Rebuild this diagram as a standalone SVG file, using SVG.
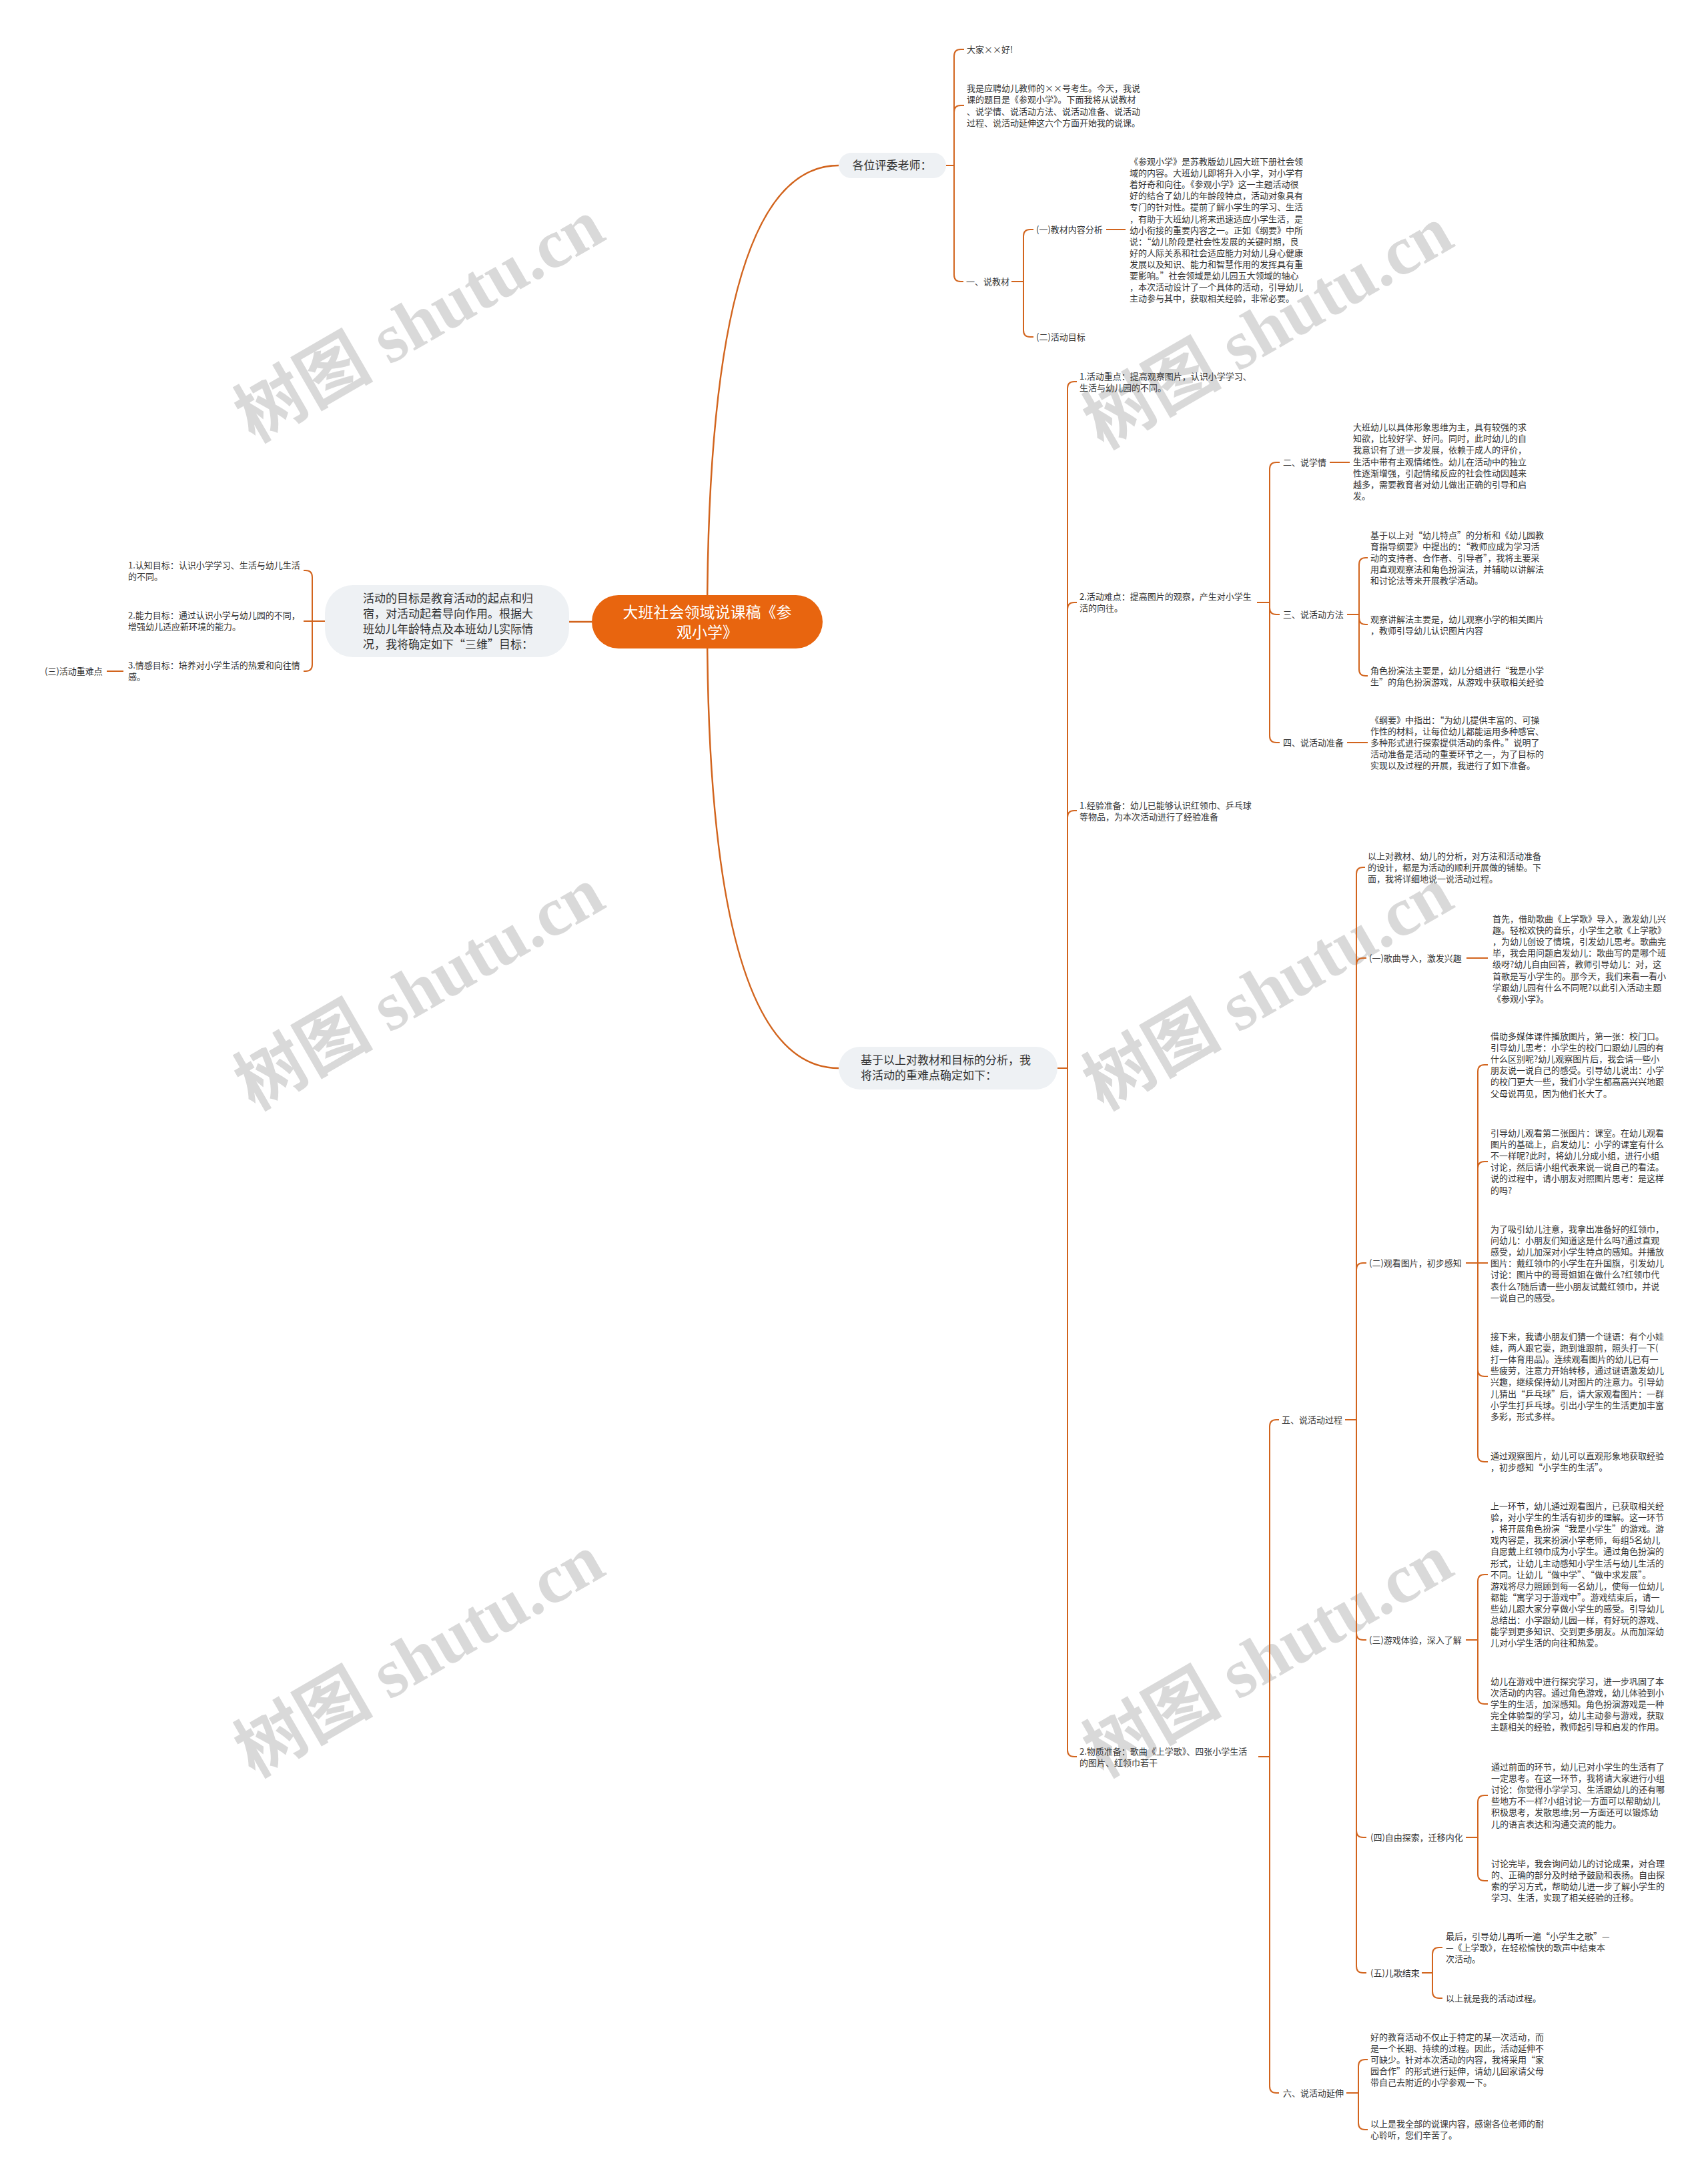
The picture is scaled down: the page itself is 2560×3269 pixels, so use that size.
<svg xmlns="http://www.w3.org/2000/svg" width="2560" height="3269" viewBox="0 0 2560 3269">
<style>
.t{font-family:"Noto Sans CJK SC","Noto Sans",sans-serif;font-size:13px;fill:#333}
.b{font-family:"Noto Sans CJK SC","Noto Sans",sans-serif;font-size:17px;fill:#333}
.r{font-family:"Noto Sans CJK SC","Noto Sans",sans-serif;font-size:23px;fill:#fff}
.c{fill:none;stroke:#d2641d;stroke-width:2}
.m{fill:none;stroke:#d2641d;stroke-width:2.5}
.box{fill:#eef1f4}
.wm{font-family:"Liberation Serif","Noto Sans CJK SC",serif;font-size:104px;font-weight:bold;fill:#d9d9d9}
</style>
<rect width="2560" height="3269" fill="#fff"/>
<g id="watermark">
<text class="wm" text-anchor="middle" transform="translate(646,511) rotate(-30)">树图 shutu.cn</text>
<text class="wm" text-anchor="middle" transform="translate(1918,521) rotate(-30)">树图 shutu.cn</text>
<text class="wm" text-anchor="middle" transform="translate(646,1512) rotate(-30)">树图 shutu.cn</text>
<text class="wm" text-anchor="middle" transform="translate(1918,1512) rotate(-30)">树图 shutu.cn</text>
<text class="wm" text-anchor="middle" transform="translate(646,2512) rotate(-30)">树图 shutu.cn</text>
<text class="wm" text-anchor="middle" transform="translate(1918,2512) rotate(-30)">树图 shutu.cn</text>
</g>
<g id="connectors">
<path class="m" d="M1060 932 Q1060 248 1257 248"/>
<path class="m" d="M1060 932 Q1060 1601 1257 1601"/>
<path class="m" d="M887 932 H853"/>
<path class="c" d="M1418 248 H1430"/>
<path class="c" d="M1430 248 V84 Q1430 74 1440 74 H1445"/>
<path class="c" d="M1430 248 V168 Q1430 158 1440 158 H1445"/>
<path class="c" d="M1430 248 V412 Q1430 422 1440 422 H1444"/>
<path class="c" d="M1516 422 H1534"/>
<path class="c" d="M1534 422 V354 Q1534 344 1544 344 H1549"/>
<path class="c" d="M1534 422 V495 Q1534 505 1544 505 H1549"/>
<path class="c" d="M1658 344 H1687"/>
<path class="c" d="M1585 1601 H1600"/>
<path class="c" d="M1600 1601 V582 Q1600 572 1610 572 H1614"/>
<path class="c" d="M1600 1601 V913 Q1600 903 1610 903 H1614"/>
<path class="c" d="M1600 1601 V1225 Q1600 1215 1610 1215 H1614"/>
<path class="c" d="M1600 1601 V2623 Q1600 2633 1610 2633 H1614"/>
<path class="c" d="M1884 903 H1903"/>
<path class="c" d="M1903 903 V703 Q1903 693 1913 693 H1918"/>
<path class="c" d="M1903 903 V911 Q1903 921 1913 921 H1918"/>
<path class="c" d="M1903 903 V1103 Q1903 1113 1913 1113 H1918"/>
<path class="c" d="M1993 693 H2023"/>
<path class="c" d="M2019 921 H2037"/>
<path class="c" d="M2037 921 V846 Q2037 836 2047 836 H2050"/>
<path class="c" d="M2037 921 V926 Q2037 936 2047 936 H2050"/>
<path class="c" d="M2037 921 V1003 Q2037 1013 2047 1013 H2050"/>
<path class="c" d="M2019 1113 H2050"/>
<path class="c" d="M1886 2633 H1903"/>
<path class="c" d="M1903 2633 V2138 Q1903 2128 1913 2128 H1917"/>
<path class="c" d="M1903 2633 V3127 Q1903 3137 1913 3137 H1917"/>
<path class="c" d="M2016 2128 H2033"/>
<path class="c" d="M2033 2128 V1310 Q2033 1300 2043 1300 H2046"/>
<path class="c" d="M2033 2128 V1446 Q2033 1436 2043 1436 H2048"/>
<path class="c" d="M2033 2128 V1903 Q2033 1893 2043 1893 H2048"/>
<path class="c" d="M2033 2128 V2448 Q2033 2458 2043 2458 H2048"/>
<path class="c" d="M2033 2128 V2744 Q2033 2754 2043 2754 H2048"/>
<path class="c" d="M2033 2128 V2947 Q2033 2957 2043 2957 H2048"/>
<path class="c" d="M2198 1436 H2230"/>
<path class="c" d="M2197 1893 H2215"/>
<path class="c" d="M2215 1893 V1606 Q2215 1596 2225 1596 H2230"/>
<path class="c" d="M2215 1893 V1751 Q2215 1741 2225 1741 H2230"/>
<path class="c" d="M2215 1893 H2230"/>
<path class="c" d="M2215 1893 V2053 Q2215 2063 2225 2063 H2230"/>
<path class="c" d="M2215 1893 V2181 Q2215 2191 2225 2191 H2230"/>
<path class="c" d="M2197 2458 H2215"/>
<path class="c" d="M2215 2458 V2370 Q2215 2360 2225 2360 H2230"/>
<path class="c" d="M2215 2458 V2544 Q2215 2554 2225 2554 H2230"/>
<path class="c" d="M2197 2754 H2215"/>
<path class="c" d="M2215 2754 V2701 Q2215 2691 2225 2691 H2230"/>
<path class="c" d="M2215 2754 V2809 Q2215 2819 2225 2819 H2230"/>
<path class="c" d="M2131 2957 H2147"/>
<path class="c" d="M2147 2957 V2929 Q2147 2919 2157 2919 H2162"/>
<path class="c" d="M2147 2957 V2985 Q2147 2995 2157 2995 H2162"/>
<path class="c" d="M2018 3137 H2036"/>
<path class="c" d="M2036 3137 V3097 Q2036 3087 2046 3087 H2050"/>
<path class="c" d="M2036 3137 V3182 Q2036 3192 2046 3192 H2050"/>
<path class="c" d="M487 931 H468"/>
<path class="c" d="M468 931 V865 Q468 855 458 855 H455"/>
<path class="c" d="M468 931 H455"/>
<path class="c" d="M468 931 V996 Q468 1006 458 1006 H455"/>
<path class="c" d="M185 1006 H160"/>
</g>
<g id="root">
<rect x="887" y="892" width="346" height="80" rx="40" fill="#e8650f"/>
<text class="r" text-anchor="middle" x="1060" y="926">大班社会领域说课稿《参<tspan x="1060" dy="30">观小学》</tspan></text>
</g>
<g id="n-goal-intro">
<rect class="box" x="487" y="877" width="366" height="108" rx="42"/>
<text class="b" x="544" y="902.5">活动的目标是教育活动的起点和归<tspan x="544" dy="23">宿，对活动起着导向作用。根据大</tspan><tspan x="544" dy="23">班幼儿年龄特点及本班幼儿实际情</tspan><tspan x="544" dy="23">况，我将确定如下“三维”目标：</tspan></text>
</g>
<g id="n-goal1"><text class="t" x="192" y="852">1.认知目标：认识小学学习、生活与幼儿生活<tspan x="192" dy="17">的不同。</tspan></text></g>
<g id="n-goal2"><text class="t" x="192" y="927">2.能力目标：通过认识小学与幼儿园的不同，<tspan x="192" dy="17">增强幼儿适应新环境的能力。</tspan></text></g>
<g id="n-goal3"><text class="t" x="192" y="1002">3.情感目标：培养对小学生活的热爱和向往情<tspan x="192" dy="17">感。</tspan></text></g>
<g id="n-zhongnan"><text class="t" x="67" y="1011">(三)活动重难点</text></g>
<g id="n-judges">
<rect class="box" x="1257" y="229" width="161" height="38" rx="19"/>
<text class="b" text-anchor="middle" x="1337" y="254">各位评委老师：</text>
</g>
<g id="n-hello"><text class="t" x="1449" y="79">大家××好!</text></g>
<g id="n-intro"><text class="t" x="1449" y="137">我是应聘幼儿教师的××号考生。今天，我说<tspan x="1449" dy="17.3">课的题目是《参观小学》。下面我将从说教材</tspan><tspan x="1449" dy="17.3">、说学情、说活动方法、说活动准备、说活动</tspan><tspan x="1449" dy="17.3">过程、说活动延伸这六个方面开始我的说课。</tspan></text></g>
<g id="n-jiaocai"><text class="t" x="1448" y="427">一、说教材</text></g>
<g id="n-jiaocai1"><text class="t" x="1553" y="349">(一)教材内容分析</text></g>
<g id="n-jiaocai1-text"><text class="t" x="1693" y="247">《参观小学》是苏教版幼儿园大班下册社会领<tspan x="1693" dy="17.1">域的内容。大班幼儿即将升入小学，对小学有</tspan><tspan x="1693" dy="17.1">着好奇和向往。《参观小学》这一主题活动很</tspan><tspan x="1693" dy="17.1">好的结合了幼儿的年龄段特点，活动对象具有</tspan><tspan x="1693" dy="17.1">专门的针对性。提前了解小学生的学习、生活</tspan><tspan x="1693" dy="17.1">，有助于大班幼儿将来迅速适应小学生活，是</tspan><tspan x="1693" dy="17.1">幼小衔接的重要内容之一。正如《纲要》中所</tspan><tspan x="1693" dy="17.1">说：“幼儿阶段是社会性发展的关键时期，良</tspan><tspan x="1693" dy="17.1">好的人际关系和社会适应能力对幼儿身心健康</tspan><tspan x="1693" dy="17.1">发展以及知识、能力和智慧作用的发挥具有重</tspan><tspan x="1693" dy="17.1">要影响。”社会领域是幼儿园五大领域的轴心</tspan><tspan x="1693" dy="17.1">，本次活动设计了一个具体的活动，引导幼儿</tspan><tspan x="1693" dy="17.1">主动参与其中，获取相关经验，非常必要。</tspan></text></g>
<g id="n-jiaocai2"><text class="t" x="1553" y="510">(二)活动目标</text></g>
<g id="n-based">
<rect class="box" x="1257" y="1569" width="328" height="64" rx="32"/>
<text class="b" x="1290" y="1595">基于以上对教材和目标的分析，我<tspan x="1290" dy="23">将活动的重难点确定如下：</tspan></text>
</g>
<g id="n-zhongdian"><text class="t" x="1618" y="569">1.活动重点：提高观察图片，认识小学学习、<tspan x="1618" dy="17">生活与幼儿园的不同。</tspan></text></g>
<g id="n-nandian"><text class="t" x="1618" y="899">2.活动难点：提高图片的观察，产生对小学生<tspan x="1618" dy="17">活的向往。</tspan></text></g>
<g id="n-xueqing"><text class="t" x="1923" y="698">二、说学情</text></g>
<g id="n-xueqing-text"><text class="t" x="2028" y="645">大班幼儿以具体形象思维为主，具有较强的求<tspan x="2028" dy="17.2">知欲，比较好学、好问。同时，此时幼儿的自</tspan><tspan x="2028" dy="17.2">我意识有了进一步发展，依赖于成人的评价，</tspan><tspan x="2028" dy="17.2">生活中带有主观情绪性。幼儿在活动中的独立</tspan><tspan x="2028" dy="17.2">性逐渐增强，引起情绪反应的社会性动因越来</tspan><tspan x="2028" dy="17.2">越多，需要教育者对幼儿做出正确的引导和启</tspan><tspan x="2028" dy="17.2">发。</tspan></text></g>
<g id="n-fangfa"><text class="t" x="1923" y="926">三、说活动方法</text></g>
<g id="n-fangfa-1"><text class="t" x="2054" y="807">基于以上对“幼儿特点”的分析和《幼儿园教<tspan x="2054" dy="17.1">育指导纲要》中提出的：“教师应成为学习活</tspan><tspan x="2054" dy="17.1">动的支持者、合作者、引导者”，我将主要采</tspan><tspan x="2054" dy="17.1">用直观观察法和角色扮演法，并辅助以讲解法</tspan><tspan x="2054" dy="17.1">和讨论法等来开展教学活动。</tspan></text></g>
<g id="n-fangfa-2"><text class="t" x="2054" y="933">观察讲解法主要是，幼儿观察小学的相关图片<tspan x="2054" dy="17.1">，教师引导幼儿认识图片内容</tspan></text></g>
<g id="n-fangfa-3"><text class="t" x="2054" y="1010">角色扮演法主要是，幼儿分组进行“我是小学<tspan x="2054" dy="17.1">生”的角色扮演游戏，从游戏中获取相关经验</tspan></text></g>
<g id="n-zhunbei"><text class="t" x="1923" y="1118">四、说活动准备</text></g>
<g id="n-zhunbei-text"><text class="t" x="2054" y="1084">《纲要》中指出：“为幼儿提供丰富的、可操<tspan x="2054" dy="17.1">作性的材料，让每位幼儿都能运用多种感官、</tspan><tspan x="2054" dy="17.1">多种形式进行探索提供活动的条件。”说明了</tspan><tspan x="2054" dy="17.1">活动准备是活动的重要环节之一，为了目标的</tspan><tspan x="2054" dy="17.1">实现以及过程的开展，我进行了如下准备。</tspan></text></g>
<g id="n-jingyan"><text class="t" x="1618" y="1212">1.经验准备：幼儿已能够认识红领巾、乒乓球<tspan x="1618" dy="17">等物品，为本次活动进行了经验准备</tspan></text></g>
<g id="n-wuzhi"><text class="t" x="1618" y="2630">2.物质准备：歌曲《上学歌》、四张小学生活<tspan x="1618" dy="17">的图片、红领巾若干</tspan></text></g>
<g id="n-guocheng"><text class="t" x="1921" y="2133">五、说活动过程</text></g>
<g id="n-guocheng-0"><text class="t" x="2050" y="1288">以上对教材、幼儿的分析，对方法和活动准备<tspan x="2050" dy="17.1">的设计，都是为活动的顺利开展做的铺垫。下</tspan><tspan x="2050" dy="17.1">面，我将详细地说一说活动过程。</tspan></text></g>
<g id="n-step1"><text class="t" x="2052" y="1441">(一)歌曲导入，激发兴趣</text></g>
<g id="n-step1-text"><text class="t" x="2237" y="1382">首先，借助歌曲《上学歌》导入，激发幼儿兴<tspan x="2237" dy="17.1">趣。轻松欢快的音乐，小学生之歌《上学歌》</tspan><tspan x="2237" dy="17.1">，为幼儿创设了情境，引发幼儿思考。歌曲完</tspan><tspan x="2237" dy="17.1">毕，我会用问题启发幼儿：歌曲写的是哪个班</tspan><tspan x="2237" dy="17.1">级呀?幼儿自由回答，教师引导幼儿：对，这</tspan><tspan x="2237" dy="17.1">首歌是写小学生的。那今天，我们来看一看小</tspan><tspan x="2237" dy="17.1">学跟幼儿园有什么不同呢?以此引入活动主题</tspan><tspan x="2237" dy="17.1">《参观小学》。</tspan></text></g>
<g id="n-step2"><text class="t" x="2052" y="1898">(二)观看图片，初步感知</text></g>
<g id="n-step2-a"><text class="t" x="2234" y="1558">借助多媒体课件播放图片，第一张：校门口。<tspan x="2234" dy="17.1">引导幼儿思考：小学生的校门口跟幼儿园的有</tspan><tspan x="2234" dy="17.1">什么区别呢?幼儿观察图片后，我会请一些小</tspan><tspan x="2234" dy="17.1">朋友说一说自己的感受。引导幼儿说出：小学</tspan><tspan x="2234" dy="17.1">的校门更大一些，我们小学生都高高兴兴地跟</tspan><tspan x="2234" dy="17.1">父母说再见，因为他们长大了。</tspan></text></g>
<g id="n-step2-b"><text class="t" x="2234" y="1703">引导幼儿观看第二张图片：课室。在幼儿观看<tspan x="2234" dy="17.1">图片的基础上，启发幼儿：小学的课室有什么</tspan><tspan x="2234" dy="17.1">不一样呢?此时，将幼儿分成小组，进行小组</tspan><tspan x="2234" dy="17.1">讨论，然后请小组代表来说一说自己的看法。</tspan><tspan x="2234" dy="17.1">说的过程中，请小朋友对照图片思考：是这样</tspan><tspan x="2234" dy="17.1">的吗?</tspan></text></g>
<g id="n-step2-c"><text class="t" x="2234" y="1847">为了吸引幼儿注意，我拿出准备好的红领巾，<tspan x="2234" dy="17.1">问幼儿：小朋友们知道这是什么吗?通过直观</tspan><tspan x="2234" dy="17.1">感受，幼儿加深对小学生特点的感知。并播放</tspan><tspan x="2234" dy="17.1">图片：戴红领巾的小学生在升国旗，引发幼儿</tspan><tspan x="2234" dy="17.1">讨论：图片中的哥哥姐姐在做什么?红领巾代</tspan><tspan x="2234" dy="17.1">表什么?随后请一些小朋友试戴红领巾，并说</tspan><tspan x="2234" dy="17.1">一说自己的感受。</tspan></text></g>
<g id="n-step2-d"><text class="t" x="2234" y="2008">接下来，我请小朋友们猜一个谜语：有个小娃<tspan x="2234" dy="17.1">娃，两人跟它耍，跑到谁跟前，照头打一下(</tspan><tspan x="2234" dy="17.1">打一体育用品)。连续观看图片的幼儿已有一</tspan><tspan x="2234" dy="17.1">些疲劳，注意力开始转移，通过谜语激发幼儿</tspan><tspan x="2234" dy="17.1">兴趣，继续保持幼儿对图片的注意力。引导幼</tspan><tspan x="2234" dy="17.1">儿猜出“乒乓球”后，请大家观看图片：一群</tspan><tspan x="2234" dy="17.1">小学生打乒乓球。引出小学生的生活更加丰富</tspan><tspan x="2234" dy="17.1">多彩，形式多样。</tspan></text></g>
<g id="n-step2-e"><text class="t" x="2234" y="2187">通过观察图片，幼儿可以直观形象地获取经验<tspan x="2234" dy="17.1">，初步感知“小学生的生活”。</tspan></text></g>
<g id="n-step3"><text class="t" x="2052" y="2463">(三)游戏体验，深入了解</text></g>
<g id="n-step3-a"><text class="t" x="2234" y="2262">上一环节，幼儿通过观看图片，已获取相关经<tspan x="2234" dy="17.1">验，对小学生的生活有初步的理解。这一环节</tspan><tspan x="2234" dy="17.1">，将开展角色扮演“我是小学生”的游戏。游</tspan><tspan x="2234" dy="17.1">戏内容是，我来扮演小学老师，每组5名幼儿</tspan><tspan x="2234" dy="17.1">自愿戴上红领巾成为小学生。通过角色扮演的</tspan><tspan x="2234" dy="17.1">形式，让幼儿主动感知小学生活与幼儿生活的</tspan><tspan x="2234" dy="17.1">不同。让幼儿“做中学”、“做中求发展”。</tspan><tspan x="2234" dy="17.1">游戏将尽力照顾到每一名幼儿，使每一位幼儿</tspan><tspan x="2234" dy="17.1">都能“寓学习于游戏中”。游戏结束后，请一</tspan><tspan x="2234" dy="17.1">些幼儿跟大家分享做小学生的感受。引导幼儿</tspan><tspan x="2234" dy="17.1">总结出：小学跟幼儿园一样，有好玩的游戏、</tspan><tspan x="2234" dy="17.1">能学到更多知识、交到更多朋友。从而加深幼</tspan><tspan x="2234" dy="17.1">儿对小学生活的向往和热爱。</tspan></text></g>
<g id="n-step3-b"><text class="t" x="2234" y="2525">幼儿在游戏中进行探究学习，进一步巩固了本<tspan x="2234" dy="17.1">次活动的内容。通过角色游戏，幼儿体验到小</tspan><tspan x="2234" dy="17.1">学生的生活，加深感知。角色扮演游戏是一种</tspan><tspan x="2234" dy="17.1">完全体验型的学习，幼儿主动参与游戏，获取</tspan><tspan x="2234" dy="17.1">主题相关的经验，教师起引导和启发的作用。</tspan></text></g>
<g id="n-step4"><text class="t" x="2054" y="2759">(四)自由探索，迁移内化</text></g>
<g id="n-step4-a"><text class="t" x="2235" y="2653">通过前面的环节，幼儿已对小学生的生活有了<tspan x="2235" dy="17.1">一定思考。在这一环节，我将请大家进行小组</tspan><tspan x="2235" dy="17.1">讨论：你觉得小学学习、生活跟幼儿的还有哪</tspan><tspan x="2235" dy="17.1">些地方不一样?小组讨论一方面可以帮助幼儿</tspan><tspan x="2235" dy="17.1">积极思考，发散思维;另一方面还可以锻炼幼</tspan><tspan x="2235" dy="17.1">儿的语言表达和沟通交流的能力。</tspan></text></g>
<g id="n-step4-b"><text class="t" x="2235" y="2798">讨论完毕，我会询问幼儿的讨论成果，对合理<tspan x="2235" dy="17.1">的、正确的部分及时给予鼓励和表扬。自由探</tspan><tspan x="2235" dy="17.1">索的学习方式，帮助幼儿进一步了解小学生的</tspan><tspan x="2235" dy="17.1">学习、生活，实现了相关经验的迁移。</tspan></text></g>
<g id="n-step5"><text class="t" x="2054" y="2962">(五)儿歌结束</text></g>
<g id="n-step5-a"><text class="t" x="2167" y="2907">最后，引导幼儿再听一遍“小学生之歌”—<tspan x="2167" dy="17.1">—《上学歌》，在轻松愉快的歌声中结束本</tspan><tspan x="2167" dy="17.1">次活动。</tspan></text></g>
<g id="n-step5-b"><text class="t" x="2167" y="3000">以上就是我的活动过程。</text></g>
<g id="n-yanshen"><text class="t" x="1923" y="3142">六、说活动延伸</text></g>
<g id="n-yanshen-a"><text class="t" x="2054" y="3058">好的教育活动不仅止于特定的某一次活动，而<tspan x="2054" dy="17.1">是一个长期、持续的过程。因此，活动延伸不</tspan><tspan x="2054" dy="17.1">可缺少。针对本次活动的内容，我将采用“家</tspan><tspan x="2054" dy="17.1">园合作”的形式进行延伸，请幼儿回家请父母</tspan><tspan x="2054" dy="17.1">带自己去附近的小学参观一下。</tspan></text></g>
<g id="n-yanshen-b"><text class="t" x="2054" y="3188">以上是我全部的说课内容，感谢各位老师的耐<tspan x="2054" dy="17.1">心聆听，您们辛苦了。</tspan></text></g>
</svg>
